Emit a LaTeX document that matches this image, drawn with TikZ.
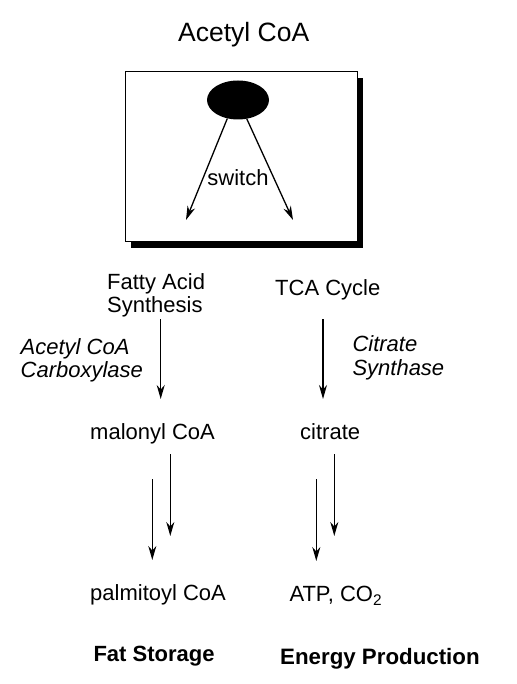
\documentclass[tikz,border=0pt]{standalone}
\usepackage{fontspec}
\setmainfont{Liberation Sans}
\usetikzlibrary{arrows.meta,shapes.geometric,shadows}

\tikzset{
  lbl/.style={inner sep=0pt, font=\fontsize{22}{23.5}\selectfont},
  enz/.style={lbl, font=\fontsize{22}{23.5}\selectfont\itshape},
  goal/.style={lbl, font=\fontsize{22}{23.5}\selectfont\bfseries},
  flow/.style={-{Stealth[length=14pt,width=8pt,inset=4.5pt]}, line width=1.3pt},
}

\begin{document}
\begin{tikzpicture}[x=1pt,y=-1pt]
  \useasboundingbox (0,0) rectangle (516,684);

  % title
  \node[lbl, font=\fontsize{26.5}{30}\selectfont, anchor=base west] (acoa) at (178,41.7) {Acetyl CoA};

  % switch box
  \node[draw, fill=white, line width=1pt, minimum width=232pt, minimum height=170pt,
        drop shadow={shadow xshift=6pt, shadow yshift=-6pt, fill=black, opacity=1}] (box) at (241,157) {};
  \node[ellipse, fill=black, minimum width=62pt, minimum height=39pt, inner sep=0pt] (sw) at (238,100) {};
  \node[lbl, anchor=base] (swl) at (238,186) {switch};
  \coordinate (fa-end) at (186,220);
  \coordinate (tca-end) at (293,220);
  \draw[flow] (sw.240) -- (fa-end);
  \draw[flow] (sw.295) -- (tca-end);

  % pathways
  \node[lbl, align=left, anchor=base west] (fas) at (107,312.7) {Fatty Acid\\Synthesis};
  \node[lbl, anchor=base west] (tca) at (275,295) {TCA Cycle};
  \node[enz, align=left, anchor=base west] (acc) at (20.5,377.7) {Acetyl CoA\\Carboxylase};
  \node[enz, align=left, anchor=base west] (cs) at (352.3,375.4) {Citrate\\Synthase};

  \coordinate (fas-out) at (160.7,319);
  \coordinate (mal-in) at (160.7,399);
  \coordinate (tca-out) at (323,319);
  \coordinate (cit-in) at (323,399);
  \draw[flow] (fas-out) -- (mal-in);
  \draw[flow] (tca-out) -- (cit-in);

  \node[lbl, anchor=base west] (mal) at (90,439.3) {malonyl CoA};
  \node[lbl, anchor=base west] (cit) at (300,439.3) {citrate};

  % double steps
  \coordinate (mal-a) at (152.3,479);
  \coordinate (pal-a) at (152.3,560);
  \coordinate (mal-b) at (170.3,454);
  \coordinate (pal-b) at (170.3,536);
  \coordinate (cit-a) at (316.3,479);
  \coordinate (atp-a) at (316.3,561);
  \coordinate (cit-b) at (334.3,454);
  \coordinate (atp-b) at (334.3,536);
  \draw[flow] (mal-a) -- (pal-a);
  \draw[flow] (mal-b) -- (pal-b);
  \draw[flow] (cit-a) -- (atp-a);
  \draw[flow] (cit-b) -- (atp-b);

  \node[lbl, anchor=base west] (pal) at (90,600.5) {palmitoyl CoA};
  \node[lbl, anchor=base west] (atp) at (289.3,601.5) {ATP, CO\textsubscript{2}};

  % outcomes
  \node[goal, anchor=base west] (fat) at (93.3,661.7) {Fat Storage};
  \node[goal, font=\fontsize{22.3}{23.5}\selectfont\bfseries, anchor=base west] (energy) at (280,664.3) {Energy Production};
\end{tikzpicture}
\end{document}
